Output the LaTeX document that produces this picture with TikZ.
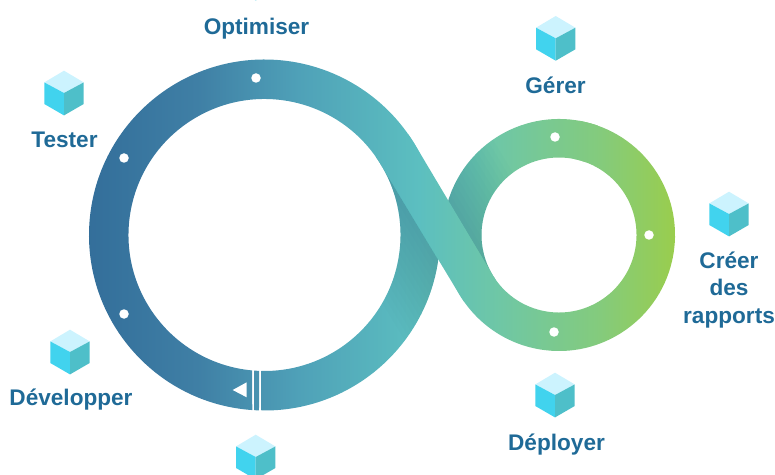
\documentclass[tikz,border=0pt]{standalone}
\usepackage{fontspec}
\setmainfont{Liberation Sans}
\usetikzlibrary{calc}
\definecolor{labelblue}{HTML}{1F6A97}
\definecolor{bA}{HTML}{336E9A}
\definecolor{bB}{HTML}{3F7FA5}
\definecolor{bC}{HTML}{4FA1B8}
\definecolor{bD}{HTML}{5CBFC0}
\definecolor{bE}{HTML}{6FC7A5}
\definecolor{bF}{HTML}{84CB7C}
\definecolor{bG}{HTML}{9ACD4C}
\definecolor{cubetop}{HTML}{CCF3FE}
\definecolor{cubeleft}{HTML}{41D3EE}
\definecolor{cuberight}{HTML}{4EBFC9}
\definecolor{shadowc}{HTML}{1F6070}
\pgfdeclarehorizontalshading{bandshade}{100bp}{color(0bp)=(bA); color(25bp)=(bA); color(34.4bp)=(bB); color(43bp)=(bC); color(53.2bp)=(bD); color(60bp)=(bE); color(68.5bp)=(bF); color(75bp)=(bG); color(100bp)=(bG)}
\tikzset{
  lab/.style={font=\bfseries\fontsize{22.6}{27.5}\selectfont, text=labelblue, align=center, inner sep=0pt},
  holedot/.style={circle, fill=white, draw=none, minimum size=9.5pt, inner sep=0pt},
  pics/cube/.style={code={
    \fill[cubetop] (0pt,22.3pt) -- (19.7pt,10.6pt) -- (0pt,0pt) -- (-19.7pt,10.6pt) -- cycle;
    \fill[cubeleft] (0pt,0pt) -- (-19.7pt,10.6pt) -- (-19.7pt,-11pt) -- (0pt,-22.4pt) -- cycle;
    \fill[cuberight] (0pt,0pt) -- (19.7pt,10.6pt) -- (19.7pt,-11pt) -- (0pt,-22.4pt) -- cycle;
  }}
}
\newcommand{\bandfill}{\shade[shading=bandshade] (86pt,0pt) rectangle (677pt,474pt);}
\begin{document}
\begin{tikzpicture}[x=1pt,y=1pt]
\useasboundingbox (0,0) rectangle (775,474);
\clip (0,0) rectangle (775,474);
\coordinate (C1) at (264.5,239);
\coordinate (C2) at (559,239);
% lower strand, right part of large ring
\begin{scope}
  \clip ($(C1)+(269:175.5pt)$) arc[start angle=269,end angle=395,radius=175.5pt]
     -- ($(C1)+(395:136pt)$) arc[start angle=395,end angle=268.7,radius=136pt] -- cycle;
  \bandfill
  \begin{scope}[shift={($(C1)+(31:136pt)$)},rotate=-59]
    \foreach \k in {5,10,...,70}{\fill[shadowc,opacity=0.015] (-300pt,0pt) rectangle (300pt,-\k pt);}
  \end{scope}
\end{scope}
% upper-left part of small ring
\begin{scope}
  \clip ($(C2)+(70:116pt)$) arc[start angle=70,end angle=215,radius=116pt]
     -- ($(C2)+(215:77.5pt)$) arc[start angle=215,end angle=70,radius=77.5pt] -- cycle;
  \bandfill
  \begin{scope}[shift={($(C2)+(211:77.5pt)$)},rotate=-59]
    \foreach \k in {5,10,...,70}{\fill[shadowc,opacity=0.015] (-300pt,0pt) rectangle (300pt,\k pt);}
  \end{scope}
\end{scope}
% main strand
\begin{scope}
  \clip ($(C1)+(266:175.5pt)$) arc[start angle=266,end angle=31,radius=175.5pt]
     -- ($(C2)+(211:77.5pt)$) arc[start angle=211,end angle=440,radius=77.5pt]
     -- ($(C2)+(440:116pt)$) arc[start angle=440,end angle=211,radius=116pt]
     -- ($(C1)+(31:136pt)$) arc[start angle=31,end angle=264.8,radius=136pt] -- cycle;
  \bandfill
\end{scope}
% narrow strip in the gap
\begin{scope}
  \clip ($(C1)+(266.6:175.5pt)$) arc[start angle=266.6,end angle=268.2,radius=175.5pt]
     -- ($(C1)+(267.7:136pt)$) arc[start angle=267.7,end angle=265.6,radius=136pt] -- cycle;
  \bandfill
\end{scope}
% dots and start marker
\node[holedot] (d1) at (256,396) {};
\node[holedot] (d2) at (124,316) {};
\node[holedot] (d3) at (124,160) {};
\node[holedot] (d4) at (555,337) {};
\node[holedot] (d5) at (649,239) {};
\node[holedot] (d6) at (554,142) {};
\fill[white] (232.7,84) -- (246.7,91.7) -- (246.7,76.7) -- cycle;
% cubes
\pic at (555.7,435.7) {cube};
\pic at (64,381) {cube};
\pic at (70,122) {cube};
\pic at (729,260) {cube};
\pic at (555,79) {cube};
\pic at (255.7,17) {cube};
\pic at (255.7,495.9) {cube};
% labels
\node[lab] (l1) at (256.5,445) {Optimiser};
\node[lab] (l2) at (555.5,389) {Gérer};
\node[lab] (l3) at (64.5,334) {Tester};
\node[lab] (l4) at (71,74) {Développer};
\node[lab] (l5) at (729,184) {Créer\\des\\rapports};
\node[lab] (l6) at (556.5,29) {Déployer};
\end{tikzpicture}
\end{document}
